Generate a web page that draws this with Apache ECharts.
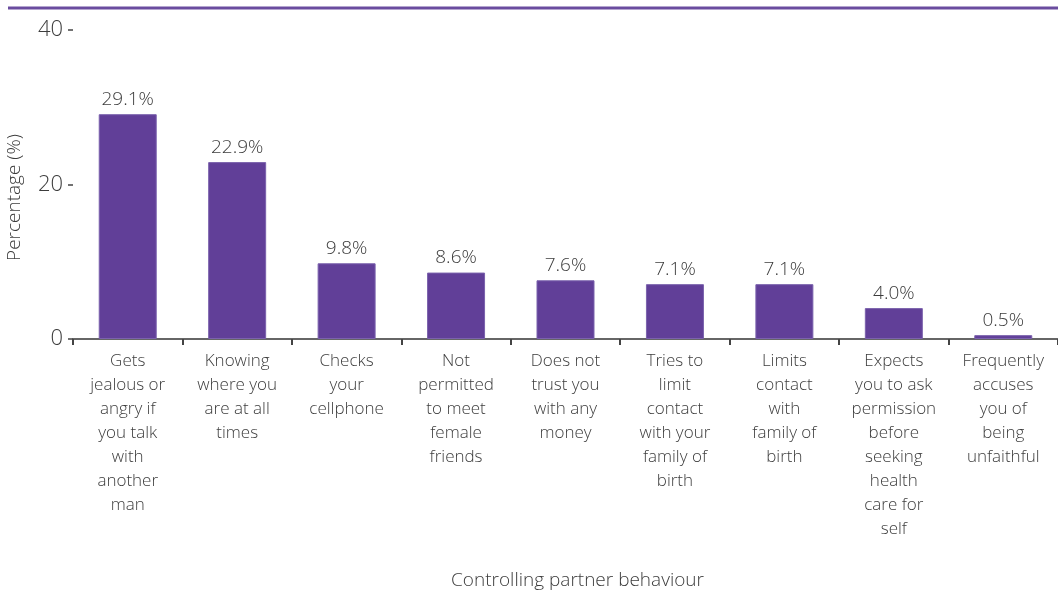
<!DOCTYPE html>
<html>
<head>
<meta charset="utf-8">
<script src="https://cdn.jsdelivr.net/npm/echarts@6/dist/echarts.min.js"></script>
<style>
  html, body { margin: 0; padding: 0; background: #fff; }
  #chart { width: 1058px; height: 604px; }
</style>
</head>
<body>
<div id="chart"></div>
<script>
// Controlling partner behaviours, share of respondents (%)
const categories = [
  "Gets\njealous or\nangry if\nyou talk\nwith\nanother\nman",
  "Knowing\nwhere you\nare at all\ntimes",
  "Checks\nyour\ncellphone",
  "Not\npermitted\nto meet\nfemale\nfriends",
  "Does not\ntrust you\nwith any\nmoney",
  "Tries to\nlimit\ncontact\nwith your\nfamily of\nbirth",
  "Limits\ncontact\nwith\nfamily of\nbirth",
  "Expects\nyou to ask\npermission\nbefore\nseeking\nhealth\ncare for\nself",
  "Frequently\naccuses\nyou of\nbeing\nunfaithful"
];
const percentages = [29.1, 22.9, 9.8, 8.6, 7.6, 7.1, 7.1, 4.0, 0.5];
const yTicks = [0, 20, 40];

const FONT = '"Open Sans", Lato, sans-serif';
const TEXT = '#3c3c3c';
const chart = echarts.init(document.getElementById('chart'));

chart.setOption({
  animation: false,
  textStyle: { fontFamily: FONT, fontWeight: 300 },
  graphic: [{
    type: 'line',
    shape: { x1: 8, y1: 8, x2: 1058, y2: 8 },
    style: { stroke: '#6a4c9f', lineWidth: 3 }
  }],
  grid: { left: 73, right: 0, top: 30, bottom: 265, containLabel: false, outerBoundsMode: 'none' },
  xAxis: {
    type: 'category',
    data: categories,
    name: 'Controlling partner behaviour',
    nameLocation: 'middle',
    nameGap: 232,
    nameTextStyle: { fontSize: 19, color: TEXT, fontFamily: FONT, fontWeight: 300, padding: [0, 0, 0, 24] },
    axisLine: { show: true, lineStyle: { color: '#666', width: 2 } },
    axisTick: { show: true, alignWithLabel: false, length: 6, lineStyle: { color: '#444', width: 2 } },
    axisLabel: {
      interval: 0,
      margin: 10,
      fontSize: 17,
      lineHeight: 24,
      color: TEXT,
      fontWeight: 300,
      align: 'center',
      verticalAlign: 'top'
    }
  },
  yAxis: {
    type: 'value',
    min: 0,
    max: 40,
    interval: 20,
    name: 'Percentage (%)',
    nameLocation: 'middle',
    nameGap: 49,
    nameTextStyle: { fontSize: 19, color: TEXT, fontFamily: FONT, fontWeight: 300, padding: [0, 26, 0, 0] },
    axisLine: { show: false },
    axisTick: { show: true, length: 5, lineStyle: { color: '#444', width: 1.5 } },
    splitLine: { show: false },
    axisLabel: {
      margin: 10,
      fontSize: 22,
      color: TEXT,
      fontWeight: 300,
      formatter: v => (yTicks.includes(v) ? String(v) : '')
    }
  },
  series: [{
    type: 'bar',
    data: percentages,
    barWidth: 58,
    itemStyle: { color: '#613f98', borderColor: '#7b62ad', borderWidth: 1 },
    label: {
      show: true,
      position: 'top',
      distance: 5,
      fontSize: 19,
      color: TEXT,
      fontWeight: 300,
      formatter: p => p.value.toFixed(1) + '%'
    }
  }]
});
</script>
</body>
</html>
